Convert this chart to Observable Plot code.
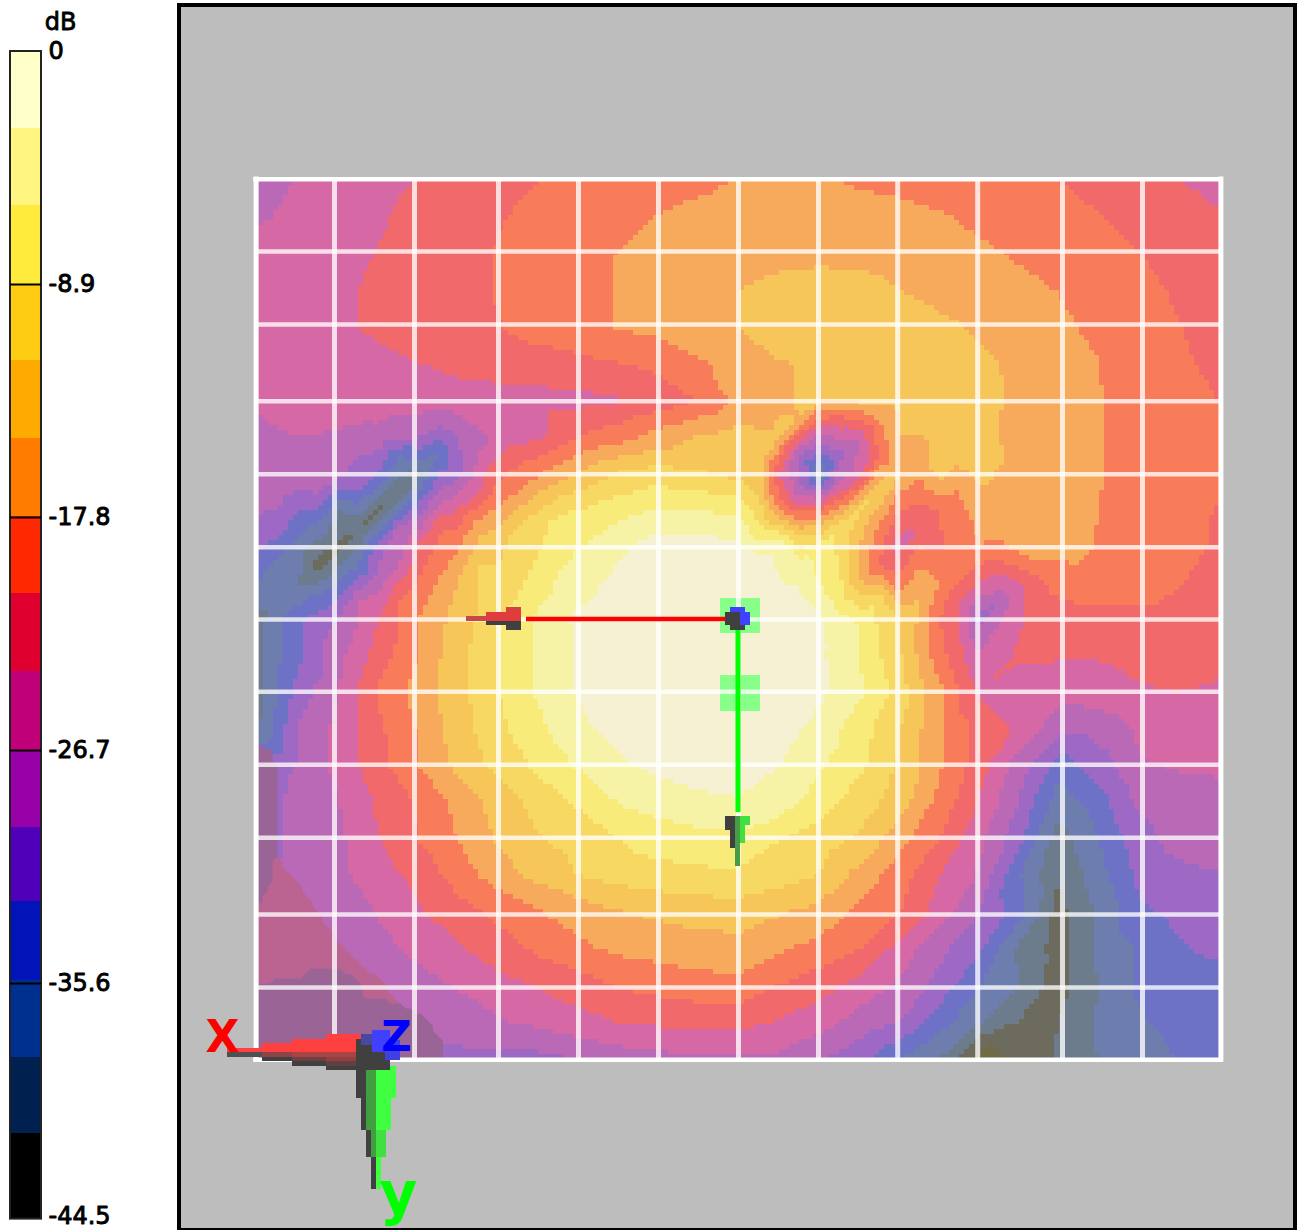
<!DOCTYPE html>
<html><head><meta charset="utf-8">
<script src="https://cdn.jsdelivr.net/npm/d3@7"></script>
<script src="https://cdn.jsdelivr.net/npm/@observablehq/plot@0.6"></script>
<style>
html,body{margin:0;padding:0;background:#fff}
#wrap{position:relative;width:1300px;height:1230px;overflow:hidden}
#wrap svg{position:absolute;left:0;top:0;background:transparent;max-width:none}
</style></head><body><div id="wrap"></div>
<script>
// Colour bar
const dbPerBand = 44.5 / 15;
const legendColors = ["#FFFFC8","#FFF580","#FFEB3C","#FFCC14","#FFAA00","#FF7C00","#FF2800","#E00030","#C00078","#9800A8","#5000B8","#0014B8","#00308F","#00204F","#000000"];
const legendEdges = [0,-2.94,-5.88,-8.9,-11.8,-14.8,-17.78,-20.72,-23.7,-26.7,-29.63,-32.45,-35.5,-38.44,-41.34,-44.6];
const legendTicks = [0,-8.9,-17.8,-26.7,-35.6,-44.5];
// Washed-out band colours seen on the surface (band 0 = strongest)
const surfaceColors = ["#F6F1D2","#F6F3A6","#F8EB79","#F6D863","#F6C659","#F8AA5C","#F97C5A","#F1696A","#D668A6","#BA69B6","#9D69C4","#6D72C6","#6D7EAE","#6D7C8C","#6C6B5E","#706A45"];
// Field grid: attenuation in colour-band units, one row per half grid cell
const fieldRows = [
[9.3,8.95,8.6,8.25,7.95,7.65,7.35,7.0,6.8,6.6,6.4,6.2,5.95,5.7,5.85,6.1,6.25,6.4,6.6,6.8,7.0,7.25,7.5,7.95,8.4],
[9.1,8.8,8.45,8.1,7.75,7.4,7.05,6.8,6.55,6.25,5.95,5.75,5.6,5.5,5.5,5.6,5.7,5.9,6.2,6.45,6.7,6.95,7.2,7.5,7.85],
[8.6,8.45,8.25,7.95,7.65,7.3,6.95,6.65,6.3,5.97,5.75,5.5,5.35,5.2,5.15,5.2,5.3,5.55,5.8,6.1,6.35,6.65,6.97,7.25,7.55],
[8.45,8.35,8.15,7.85,7.55,7.2,6.95,6.65,6.3,5.95,5.6,5.3,4.98,4.8,4.7,4.75,4.97,5.25,5.5,5.75,6.02,6.35,6.75,7.1,7.45],
[8.4,8.3,8.15,7.85,7.6,7.3,7.03,6.65,6.3,5.95,5.7,5.3,4.98,4.6,4.5,4.5,4.55,4.8,5.1,5.5,5.85,6.15,6.5,6.97,7.3],
[8.35,8.3,8.25,8.2,8.02,7.75,7.55,7.4,7.25,7.05,6.75,6.2,5.5,5.05,4.9,4.7,4.5,4.6,4.8,5.2,5.65,5.98,6.4,6.8,7.25],
[8.9,8.6,8.5,8.45,8.4,8.4,8.4,8.35,8.3,8.1,7.6,6.95,5.7,5.05,4.9,4.8,4.85,4.6,4.8,5.1,5.5,5.95,6.4,6.7,7.0],
[9.2,9.0,9.15,9.35,10.0,10.05,8.7,8.2,7.0,6.4,5.6,4.9,4.6,4.9,9.3,8.9,5.0,4.6,4.8,5.2,5.6,5.95,6.3,6.5,6.8],
[9.4,9.3,9.8,11.0,13.2,10.2,7.3,6.1,4.9,3.9,3.5,3.85,4.3,8,13,8.7,4.98,4.7,4.7,5.2,5.6,5.95,6.2,6.4,6.6],
[9.9,11.1,12.9,14.2,10.5,7.9,5.8,4.1,3.0,2.4,1.9,1.95,2.3,6,7,3.8,7,7,5.7,5.4,5.6,6.0,6.3,6.7,7.05],
[10.9,12.5,14.2,10.4,7.8,6.1,4.25,3.1,2.05,1.15,0.5,0.5,0.7,1.2,2.5,5,8.5,7.2,6.1,5.6,5.7,6.05,6.4,6.75,7.1],
[12.0,13.0,11.9,9.4,6.95,4.95,3.75,2.55,1.35,0.7,0.4,0.3,0.4,0.95,1.95,4.8,6.5,6.0,8.0,8.1,6.6,6.3,6.4,6.95,7.3],
[13.3,11.2,9.97,7.95,5.97,4.6,3.05,1.8,0.8,0.5,0.3,0.2,0.2,0.4,0.85,2.1,4,7,10.5,8.1,7.6,7.5,7.45,7.5,7.6],
[13.2,11.3,9.3,7.5,5.97,4.3,3.0,1.9,0.85,0.4,0.2,0.15,0.2,0.4,0.8,2.0,3.8,6.5,8.9,7.9,7.9,7.9,7.7,7.6,7.7],
[13.5,10.5,8.95,6.85,5.6,4.3,3.0,1.85,0.9,0.4,0.2,0.15,0.2,0.4,0.75,1.8,3.4,5.7,8.05,8.4,8.7,8.5,8.1,8.0,8.15],
[13,9.9,8.65,7.2,5.9,4.5,3.25,2.25,1.25,0.6,0.25,0.2,0.2,0.5,1.35,2.5,3.95,5.8,7.3,8.2,9.6,9.6,8.85,8.4,8.3],
[10.7,9.85,8.7,7.3,5.97,4.75,3.7,2.75,1.9,1.2,0.7,0.4,0.4,0.97,1.85,2.75,4.1,5.8,7.5,9.5,11.5,10.5,9.1,8.9,8.9],
[10.5,9.7,9.0,7.8,6.85,5.65,4.55,3.6,2.85,1.95,1.6,1.3,1.1,1.4,2.5,3.5,4.4,6.3,8.0,10.0,12.6,11.5,9.8,9.4,9.2],
[10.5,9.6,9.2,8.05,6.97,5.95,4.85,4.05,3.6,2.98,2.5,2.3,2.2,2.95,3.4,4.15,5.6,6.95,8.7,10.65,13.5,12.0,10.4,9.6,9.3],
[10.3,9.6,9.2,8.5,7.7,6.5,5.5,4.65,3.97,3.6,3.4,3.25,3.2,3.5,4.0,5.3,6.5,7.97,9.1,11.9,14.0,12.4,10.8,10.3,10.1],
[9.3,9.2,9.2,8.95,8.1,7.4,6.7,6.05,5.6,5.05,4.8,4.6,4.5,4.9,5.3,6.2,6.95,8.4,9.95,11.5,14.3,12.9,11.2,10.7,10.5],
[9.4,9.35,9.3,9.2,8.8,8.1,7.5,6.75,6.2,5.8,5.6,5.4,5.35,5.85,6.3,6.97,8.3,9.7,10.8,13.1,14.4,12.8,11.9,11.1,10.8],
[10.2,10,9.9,9.5,9.3,8.9,8.3,7.9,7.5,6.9,6.6,6.4,6.3,7.0,7.6,8.3,9.15,10.3,11.9,13,14.5,13,11.9,11.5,11.4],
[10.3,10.3,10.3,10.3,10.05,9.5,9.1,8.7,8.3,7.97,7.8,7.65,7.6,8.05,8.5,9.4,9.9,11.5,12.8,14,14,12.9,12.1,11.7,11.5],
[10.3,10.3,10.3,10.3,10.3,10.3,10.3,10.3,9.9,9.5,9.3,9.2,9.1,9.2,9.9,10.6,11.9,12.97,15.5,14.7,13.9,12.97,12.5,11.95,11.7]
];
// Extra readings at cell centres where the field changes fast: [column, row, value] in half-cell indices
const extraReadings = [
[4.5,6.5,9.5],
[1.5,7.5,9.3],[2.5,7.5,9.95],[3.5,7.5,11.9],[4.5,7.5,12.0],[5.5,7.5,9.0],[6.5,7.5,7.4],
[0.5,8.5,9.6],[1.5,8.5,9.9],[2.5,8.5,11],[3.5,8.5,14],[4.5,8.5,9.95],[5.5,8.5,8],[6.5,8.5,5.95],[7.5,8.5,4.3],
[0.5,9.5,10.5],[1.5,9.5,12.4],[2.5,9.5,14],[3.5,9.5,9.95],[4.5,9.5,7.2],[5.5,9.5,5.3],[6.5,9.5,3.8],[7.5,9.5,2.3],
[0.5,10.5,12.5],[1.5,10.5,14.5],[2.5,10.5,12],[3.5,10.5,8.95],[4.5,10.5,6.4],[5.5,10.5,4],[6.5,10.5,3.4],[7.5,10.5,2.1],
[0.5,11.5,12.9],[1.5,11.5,11.5],[2.5,11.5,9],[3.5,11.5,7],[4.5,11.5,5.4],[5.5,11.5,4],[6.5,11.5,2.9],[7.5,11.5,1.6],
[13.5,6.5,5],[14.5,6.5,7.2],[15.5,6.5,6],[16.5,6.5,4.7],
[12.5,7.5,4.2],[13.5,7.5,9.8],[14.5,7.5,10.5],[15.5,7.5,7.0],[16.5,7.5,5.5],[17.5,7.5,4.6],[18.5,7.5,4.9],
[12.5,8.5,4.4],[13.5,8.5,9.5],[14.5,8.5,8.2],[15.5,8.5,3.9],[16.5,8.5,6.5],[17.5,8.5,6.0],[18.5,8.5,5.2],
[12.5,9.5,2.7],[13.5,9.5,4.9],[14.5,9.5,3.3],[15.5,9.5,6.2],[16.5,9.5,8],[17.5,9.5,6.4],[18.5,9.5,5.5],
[12.5,10.5,0.6],[13.5,10.5,1.5],[14.5,10.5,3.0],[15.5,10.5,7],[16.5,10.5,6.0],[17.5,10.5,6.2],[18.5,10.5,7.4],
[12.5,11.5,0.3],[13.5,11.5,0.7],[14.5,11.5,2.3],[15.5,11.5,3.4],[16.5,11.5,4.97],[17.5,11.5,7.9],[18.5,11.5,9.8],[19.5,11.5,7.5],
[12.5,12.5,0.3],[13.5,12.5,0.6],[14.5,12.5,1.3],[15.5,12.5,2.95],[16.5,12.5,5.2],[17.5,12.5,7.9],[18.5,12.5,8.5]
];
// Two darker shaded patches in the lower-left corner (1 = inside)
const lightShadeRows = [
[0,0,0,0,0,0],[0,0,0,0,0,0],[0.6,0,0,0,0,0],[1,0.35,0,0,0,0],[1,0.9,0.1,0,0,0],[1,1,0.55,0,0,0],[1,1,1,0.6,0,0],[1,1,1,1,0.6,0],[1,1,1,1,1,0]
];
const darkShadeRows = [
[0.3,0,0,0,0,0,0],[0.8,0.1,0,0,0,0,0],[0.8,0.1,0,0,0,0,0],[0.8,0.2,0,0,0,0,0],[0.7,0.1,0,0,0,0,0],[0.45,0,0,0,0,0,0],[0.1,0.1,0.1,0,0,0,0],[0.5,0.6,0.9,0.2,0.1,0,0],[1,1,1,0.9,0.6,0.1,0],[1,1,1,1,1,0.2,0]
];
// Surface grid lines, in grid cells from the origin
const gridXTicks = [-5.05,-4.05,-3,-2,-1,0,1,1.99,2.99,4.05,5.05];
const gridYTicks = [-5.04,-4.04,-2.99,-1.99,-0.99,0,0.99,1.99,2.99,4.04,5.04];
const edgeX = [-6.03,6.03], edgeY = [-6.03,6.03];

// ---- layout helpers ----
const ux = p => (p - 738) / 80, uy = p => (p - 619) / 73;
const cellPoints = [];
fieldRows.forEach((row, j) => row.forEach((v, i) => cellPoints.push({x: -6 + i * .5, y: -6 + j * .5, db: -v * dbPerBand})));
extraReadings.forEach(([i, j, v]) => cellPoints.push({x: -6 + i * .5, y: -6 + j * .5, db: -v * dbPerBand}));
const shadePoints = (rows, j0) => rows.flatMap((row, j) => row.map((v, i) => ({x: -6 + i * .5, y: j0 + j * .5, v})));
const block = (x1, x2, y1, y2, fill) => ({x1: ux(x1), x2: ux(x2), y1: uy(y1), y2: uy(y2), fill});
const glyphs = [
  // upper red arrowhead
  block(466,486,616,621,"#C84848"), block(486,521,612,621,"#E03C3C"), block(506,521,607,612,"#D84040"),
  block(486,521,621,625,"#404040"), block(506,521,625,630,"#404040"),
  // upper green arrowhead
  block(725,730,816,830,"#404040"), block(730,735,816,848,"#404040"), block(735,740,816,866,"#459E45"),
  block(740,750,816,825,"#40E040"), block(740,745,825,843,"#40E040"),
  // origin
  block(730,745,607,612,"#4040FF"), block(735,750,612,625,"#4040FF"),
  block(725,740,612,625,"#404040"), block(730,745,625,630,"#404040"),
  // triad: red cone
  block(227,262,1048,1052,"#FF4040"), block(262,292,1043,1052,"#FF4040"), block(292,326,1039,1052,"#FF4040"), block(326,361,1034,1052,"#FF4040"),
  block(227,262,1052,1057,"#505050"), block(262,292,1052,1057,"#8C4444"), block(292,357,1052,1057,"#A84444"),
  block(262,292,1057,1061,"#404040"), block(292,326,1057,1061,"#704040"), block(326,357,1057,1061,"#904040"),
  block(292,326,1061,1066,"#404040"), block(326,357,1061,1066,"#604040"), block(326,357,1066,1070,"#404040"),
  // triad: green cone
  block(366,376,1070,1130,"#40A040"), block(371,376,1130,1157,"#40A040"),
  block(376,396,1066,1098,"#40FF40"), block(376,391,1098,1130,"#40FF40"), block(376,386,1130,1157,"#40E040"), block(376,381,1157,1189,"#40FF40"),
  block(356,366,1070,1098,"#404040"), block(361,366,1098,1130,"#404040"), block(366,371,1130,1157,"#404040"), block(371,376,1157,1189,"#404040"),
  // triad: centre and blue cone
  block(356,390,1039,1070,"#404040"), block(372,390,1030,1052,"#4040FF"), block(385,400,1040,1060,"#4040E0"), block(361,372,1034,1045,"#4848A0")
];
const highlightBoxes = [block(720,760,598,633,"#88FF88"), block(720,760,675,711,"#88FF88")];
const frame = [{x1: ux(179), x2: ux(1295), y1: uy(5), y2: uy(1230)}];
const band = {x1: ux(257), x2: ux(1219), y1: uy(180), y2: uy(1058)};
const thresholds = d3.range(15, 0, -1).map(k => -k * dbPerBand);

const main = Plot.plot({
  width: 1300, height: 1230, margin: 0,
  x: {axis: null, domain: [ux(0), ux(1300)], range: [0, 1300]},
  y: {axis: null, domain: [uy(0), uy(1230)], range: [0, 1230]},
  color: {type: "threshold", domain: thresholds, range: surfaceColors.slice().reverse()},
  marks: [
    Plot.rect(frame, {x1: "x1", x2: "x2", y1: "y1", y2: "y2", fill: "#BDBDBD", stroke: "#000", strokeWidth: 4}),
    Plot.raster(cellPoints, {x: "x", y: "y", fill: "db", interpolate: "barycentric", pixelSize: 5, imageRendering: "pixelated", ...band}),
    Plot.contour(shadePoints(lightShadeRows, 2), {x: "x", y: "y", value: "v", thresholds: [0.5], fill: "#BB6492", interpolate: "barycentric", smooth: false, pixelSize: 5,
      x1: band.x1, x2: ux(578), y1: uy(765), y2: band.y2}),
    Plot.contour(shadePoints(darkShadeRows, 1.5), {x: "x", y: "y", value: "v", thresholds: [0.5], fill: "#9A6497", interpolate: "barycentric", smooth: false, pixelSize: 5,
      x1: band.x1, x2: ux(578), y1: uy(728.5), y2: band.y2}),
    Plot.rect(highlightBoxes, {x1: "x1", x2: "x2", y1: "y1", y2: "y2", fill: "fill", shapeRendering: "crispEdges"}),
    Plot.ruleX(gridXTicks, {y1: edgeY[0], y2: edgeY[1], stroke: "#fff", strokeOpacity: 0.78, strokeWidth: 5}),
    Plot.ruleY(gridYTicks, {x1: edgeX[0], x2: edgeX[1], stroke: "#fff", strokeOpacity: 0.78, strokeWidth: 4.5}),
    Plot.ruleX(edgeX, {y1: edgeY[0] - .03, y2: edgeY[1] + .03, stroke: "#fff", strokeWidth: 5}),
    Plot.ruleY(edgeY, {x1: edgeX[0] - .03, x2: edgeX[1] + .03, stroke: "#fff", strokeWidth: 4.5}),
    Plot.ruleY([uy(618.5)], {x1: ux(526), x2: ux(725), stroke: "#FF0000", strokeWidth: 4.5}),
    Plot.ruleX([ux(737.5)], {y1: uy(625), y2: uy(812), stroke: "#00FF00", strokeWidth: 5}),
    Plot.rect(glyphs, {x1: "x1", x2: "x2", y1: "y1", y2: "y2", fill: "fill", shapeRendering: "crispEdges"}),
    Plot.text(["X"], {x: ux(222), y: uy(1037), fill: "#FF0000", fontSize: 44, fontWeight: "bold", fontFamily: "DejaVu Sans"}),
    Plot.text(["Z"], {x: ux(396), y: uy(1037), fill: "#0000FF", fontSize: 42, fontWeight: "bold", fontFamily: "DejaVu Sans"}),
    Plot.text(["y"], {x: ux(398), y: uy(1195), fill: "#00FF00", fontSize: 58, fontWeight: "bold", fontFamily: "DejaVu Sans"})
  ]
});

const legendRows = legendColors.map((c, i) => ({top: legendEdges[i], bottom: legendEdges[i + 1], c}));
const legend = Plot.plot({
  width: 178, height: 1230, margin: 0,
  x: {axis: null, domain: [0, 178], range: [0, 178]},
  y: {axis: null, domain: [0, -44.5], range: [51, 1216]},
  marks: [
    Plot.rect(legendRows, {x1: 10, x2: 41, y1: "top", y2: "bottom", fill: "c", shapeRendering: "crispEdges"}),
    Plot.rect([0], {x1: 10, x2: 41, y1: 0, y2: -44.6, stroke: "#222", strokeWidth: 2, fill: "none"}),
    Plot.ruleY(legendTicks.slice(1, 5), {x1: 10, x2: 41, stroke: "#000", strokeWidth: 2}),
    Plot.text(legendTicks, {x: 48, y: d => d, text: d => d === 0 ? "0" : d.toFixed(1), textAnchor: "start", fontSize: 24, fill: "#000", stroke: "#000", strokeWidth: 0.9, fontFamily: "DejaVu Sans"}),
    Plot.text(["dB"], {x: 60, y: 1.1, fontSize: 24, fill: "#000", stroke: "#000", strokeWidth: 0.8, fontFamily: "DejaVu Sans"})
  ]
});
const wrap = document.getElementById("wrap");
wrap.appendChild(main);
wrap.appendChild(legend);
</script></body></html>
